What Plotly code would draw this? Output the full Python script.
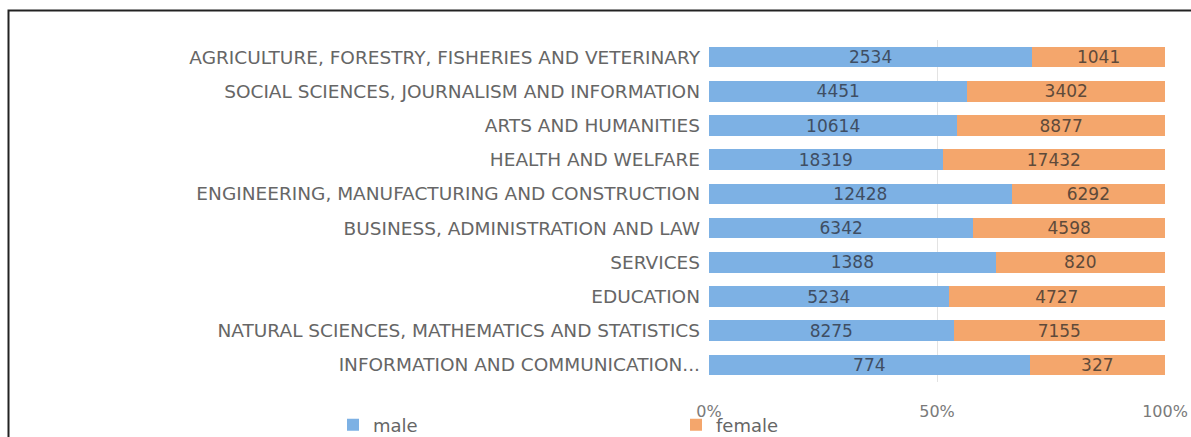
import plotly.graph_objects as go

categories = [
    "AGRICULTURE, FORESTRY, FISHERIES AND VETERINARY",
    "SOCIAL SCIENCES, JOURNALISM AND INFORMATION",
    "ARTS AND HUMANITIES",
    "HEALTH AND WELFARE",
    "ENGINEERING, MANUFACTURING AND CONSTRUCTION",
    "BUSINESS, ADMINISTRATION AND LAW",
    "SERVICES",
    "EDUCATION",
    "NATURAL SCIENCES, MATHEMATICS AND STATISTICS",
    "INFORMATION AND COMMUNICATION...",
]
male = [2534, 4451, 10614, 18319, 12428, 6342, 1388, 5234, 8275, 774]
female = [1041, 3402, 8877, 17432, 6292, 4598, 820, 4727, 7155, 327]
tick_vals = [0, 0.5, 1]
tick_text = ["0%", "50%", "100%"]

W, H = 1191, 437
ML, MR, MT, MB = 709, 26, 40, 55
pw, ph = W - ML - MR, H - MT - MB
FONT = "DejaVu Sans"

def px_x(x):
    return (x - ML) / pw

def px_y(y):
    return 1 - (y - MT) / ph

fig = go.Figure()
fig.add_trace(go.Bar(
    y=categories, x=male, name="male", orientation="h",
    marker=dict(color="#7DB1E4", line=dict(width=0)),
    text=male, textposition="inside", insidetextanchor="middle",
    textfont=dict(color="#3F4E63", size=17, family=FONT),
))
fig.add_trace(go.Bar(
    y=categories, x=female, name="female", orientation="h",
    marker=dict(color="#F4A66C", line=dict(width=0)),
    text=female, textposition="inside", insidetextanchor="middle",
    textfont=dict(color="#5E4A3A", size=17, family=FONT),
))

border = "M {x0},{y0} L {x0},{y1} L {x2},{y1}".format(
    x0=px_x(8.5), y0=px_y(440), y1=px_y(10.5), x2=px_x(1195))

fig.update_layout(
    width=W, height=H,
    margin=dict(l=ML, r=MR, t=MT, b=MB, autoexpand=False),
    barmode="stack", barnorm="fraction", bargap=0.4,
    plot_bgcolor="white", paper_bgcolor="white",
    font=dict(family=FONT, color="#595959", size=15),
    xaxis=dict(range=[0, 1], tickvals=tick_vals, ticktext=tick_text,
               showgrid=True, gridcolor="#E3E3E3", gridwidth=1,
               zeroline=False, showline=False, ticks="", automargin=False,
               ticklabelstandoff=18, tickfont=dict(size=16, color="#7A7A7A")),
    yaxis=dict(autorange="reversed", showgrid=False, ticks="", showline=False,
               automargin=False,
               ticklabelstandoff=8, tickfont=dict(size=18.5, color="#666666")),
    legend=dict(orientation="h", xref="paper", yref="paper",
                x=px_x(333), y=px_y(425), xanchor="left", yanchor="middle",
                traceorder="normal", entrywidth=298, entrywidthmode="pixels",
                itemwidth=30,
                font=dict(size=18, color="#666666", family=FONT),
                bgcolor="rgba(0,0,0,0)"),
    uniformtext=dict(mode="show", minsize=17),
    shapes=[dict(type="path", path=border, xref="paper", yref="paper",
                 line=dict(color="#222222", width=2))],
)

fig.write_html("out.html")
